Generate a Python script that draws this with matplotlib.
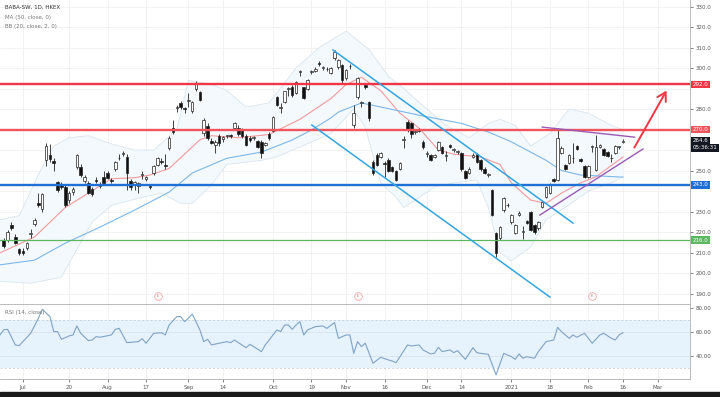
import matplotlib
matplotlib.use("Agg")
import matplotlib.pyplot as plt
from matplotlib.transforms import blended_transform_factory

# bar numbers: 0 = 2 Jul 2020 (HKEX trading days), first visible bar is -5
first_bar = -5

opens = [216, 216, 223.5, 217.5, 211.5, 210.8, 212, 219, 224, 234, 231, 255, 257.5, 254.6, 244.4, 243.5,
         242, 235.6, 239.5, 251.7, 251.7, 245, 244, 241, 245.2, 242.5, 247, 249, 245.3, 251, 256, 258,
         256.5, 245, 243, 242.5, 248, 246, 242.3, 249, 252.7, 254.5, 252.5, 261,
         270.7, 280.5, 283, 280.2, 284, 279, 290, 288.3, 268.3, 271.7, 264.5, 262.4, 267, 265.5, 266.8, 267,
         270.7, 271, 270, 267, 266, 266, 264.4, 264, 262.5, 268, 269.3, 285.9, 280.5, 283.4, 290, 291,
         288, 298, 290.7, 290, 298, 298.5, 302.4, 300, 299.6,
         297.5, 304.9, 300.5, 301.5, 295, 301, 272, 286, 283, 291.7, 283.4, 254, 257.6, 256.6, 253.6, 255,
         251.5, 250, 251, 265, 273.6, 273, 269, 270.5, 264, 258, 257.6, 256.5, 260, 261.5, 257, 262.5,
         260, 259, 258.5, 250, 249, 256.5, 258, 255, 251, 248,
         240.5, 219.5, 217, 230.7, 233, 224.9, 219.5, 228.5, 220, 225.5, 229.8, 223.4, 222, 232.2, 237, 239,
         245.8, 245.4, 258.5, 252.7, 253.7, 256, 262, 255.5, 252, 247, 261.5, 250.2, 261.5, 260.5, 259, 256,
         258.5, 261.5, 263.8]
highs = [217, 221, 225, 219, 212, 212, 215, 221.5, 227, 239, 239, 263.4, 263, 256, 245, 244.5,
         243, 240, 242, 258, 253, 248, 245, 242, 247, 244.5, 250, 250, 246.5, 254.5, 258, 259.5,
         258, 246, 245, 244.5, 250, 247.5, 243, 252.5, 256.5, 256, 258, 267,
         274.6, 282, 284, 281, 287.8, 284, 293.5, 289, 275.5, 273, 266, 265, 268, 267, 267.5, 268,
         273.5, 272, 271, 268, 267, 267, 265, 265, 264, 269, 276.5, 286.5, 283, 289, 291, 291.5,
         293.5, 299, 291, 294.5, 299, 300.5, 303.5, 301, 300.5,
         300.5, 309, 304.5, 302, 299.5, 302, 282, 295.5, 284, 292, 284, 255, 258.5, 259, 254.5, 256,
         252, 250.5, 254, 267, 274.5, 273.5, 270.5, 271, 265, 259.5, 258, 258, 264.5, 262, 259.5, 263,
         261, 260, 259, 250.5, 251.5, 258.5, 258.5, 255.5, 251.5, 249,
         241, 220, 223, 237, 234, 229, 224, 230.5, 223, 226, 230.5, 224, 225.5, 235, 242.5, 244,
         246.5, 270.7, 262, 253, 258, 263.4, 262.5, 256, 252.5, 252.5, 262.5, 267.3, 263, 261, 259.5, 258,
         262.5, 262, 265.5]
lows = [212, 215, 221, 214, 209, 209, 211, 217, 223, 232, 230, 252, 254, 250, 239.5, 241,
        232, 234, 238, 251, 247, 244, 238.5, 237.5, 244, 241.5, 243.5, 246, 244, 250, 255, 257,
        240.5, 240.5, 240.5, 239, 246, 245, 241, 248, 252, 253, 251, 260,
        268, 278.5, 280, 278, 281, 278, 289, 284, 267, 265, 263, 258.5, 262, 264, 266, 266,
        270, 267, 266, 262, 264, 265, 261, 256, 262, 265, 269, 281.5, 278, 283, 286.5, 286,
        287.5, 296, 285, 289.5, 297, 298, 301, 299, 298.5,
        297, 304, 299.5, 292.7, 294, 299.5, 271, 285, 281, 290, 274, 248, 252, 256, 247, 249.5,
        249.5, 245, 250.5, 261, 269, 266, 268, 269, 260.5, 256.5, 254.5, 256, 259.5, 258, 254.5, 261,
        259, 258, 250, 246, 248.5, 256, 253.5, 250, 248.5, 247,
        228, 207.8, 216, 230, 232, 224, 219, 228, 216.5, 224, 220.5, 219, 221, 231.5, 236.5, 238.5,
        244.5, 245, 258, 250.5, 253, 253.7, 260, 254, 246.5, 246.5, 259, 250, 261, 257, 256.5, 254,
        258, 260.5, 263.5]
closes = [213, 220, 222, 214.6, 210, 210, 214.6, 219.5, 226, 233, 238.5, 262, 255.6, 253.7, 240.5, 242,
          233, 239, 241, 257.5, 247.8, 247, 239, 238.5, 244.8, 243.5, 244, 246.6, 245, 254, 256.3, 258.2,
          249, 242, 244.5, 244, 248.2, 247, 242, 252, 256, 254, 252, 266,
          269, 280.8, 281, 280, 284.3, 283.4, 292.7, 284.4, 274.6, 265.9, 263.5, 264, 263.4, 266.5, 267, 266.8,
          273, 268, 267, 262.4, 265, 266.2, 261.5, 258.5, 263.5, 266, 276, 282, 280.7, 288.8, 290.3, 286.8,
          293, 298.2, 285.4, 294, 298.2, 299.5, 302.2, 300.2, 299.4,
          300, 307.8, 304, 294, 299, 300.8, 278, 295, 283.2, 290.7, 275.6, 248.8, 252.7, 258.5, 253.4, 250,
          250, 245.4, 253.7, 265.3, 269.8, 268, 269.2, 269.5, 261.5, 258.2, 255, 257.5, 264, 258.5, 257.2, 261.5,
          260.2, 259.2, 251, 246.5, 251, 257.5, 254, 250.7, 249, 248.2,
          228.3, 209.8, 222.4, 236.6, 233.2, 228.3, 223.4, 229.5, 220.2, 224.5, 221, 220, 225, 234.6, 242, 243.4,
          245, 265.8, 261, 251, 257.5, 256.2, 260.5, 254.5, 247, 252, 261.7, 261.5, 262.5, 257.6, 257, 256.2,
          262, 261.7, 264.6]

# indicator readings (bar number, value)
ma50_bars = [-6, 3, 11, 20, 29, 38, 44, 53, 62, 70, 75, 80, 82, 88, 93, 103, 114, 121, 127, 136, 140, 145, 156]
ma50_vals = [204, 206.3, 214.6, 222.4, 230.7, 239.5, 248.8, 256, 259, 264.9, 269.8, 275.6, 278.5, 283, 281,
             277, 273, 268.8, 264, 255, 250, 247.8, 246.8]
basis_bars = [-6, 3, 11, 17, 23, 29, 33, 38, 42, 46, 49, 56, 64, 72, 80, 84, 88, 93, 98, 103, 108, 112, 119,
              124, 127, 132, 136, 140, 145, 149, 156]
basis_vals = [209.8, 217.6, 232, 239, 246, 246.5, 247.8, 251, 258, 265, 267, 266, 267.6, 275, 285, 292, 295.5,
              289, 278, 270.7, 260, 258, 256.6, 253, 244, 235.6, 234, 239, 244, 247, 256.6]
upper_bars = [-6, -1, 4, 8, 12, 17, 23, 29, 34, 40, 43, 49, 53, 58, 64, 71, 77, 84, 90, 95, 99, 105, 110,
              116, 121, 124, 128, 132, 137, 142, 147, 153, 156]
upper_vals = [226, 228, 248, 262, 266, 267, 263, 260, 260, 270, 294, 292, 289, 281, 283, 300, 310, 318, 309,
              296, 290, 280, 272, 266, 273, 275, 272, 262, 268, 280, 278, 272, 270]
lower_bars = [-6, 2, 10, 18, 23, 29, 36, 41, 44, 49, 53, 62, 66, 72, 80, 86, 89, 93, 97, 99, 102, 107, 112,
              118, 121, 124, 127, 132, 136, 141, 147, 153, 156]
lower_vals = [196, 195, 198, 225, 233, 236, 239, 234, 234, 243, 253, 255, 256.6, 261.5, 268, 280, 271, 244,
              237, 232, 235.6, 242, 244, 245.4, 232, 210, 206, 212.7, 226, 232, 240, 244, 247]

rsi_bars = [-6, -5, -4, -2, -1, 2, 4, 5, 7, 8, 9, 10, 12, 13, 14, 15, 17, 18, 19, 20, 23, 24, 25, 27, 30,
            31, 32, 34, 36, 37, 38, 40, 41, 42, 43, 44, 46, 47, 48, 49, 51, 53, 54, 55, 56, 58, 59, 60, 62,
            63, 64, 66, 67, 68, 69, 70, 71, 72, 73, 74, 76, 78, 79, 81, 82, 84, 85, 86, 87, 88, 89, 91, 93,
            95, 96, 97, 100, 101, 103, 104, 106, 107, 108, 109, 111, 112, 113, 114, 115, 117, 118, 119, 121,
            123, 125, 127, 128, 129, 130, 131, 133, 134, 136, 138, 139, 140, 142, 143, 144, 146, 148, 150,
            151, 153, 154, 155, 156]
rsi_vals = [57.5, 61.7, 62.2, 49.2, 48.6, 58.9, 71.4, 78.9, 72.8, 60.3, 60.3, 53.9, 56.7, 57.5, 65, 58.9,
            52.8, 53.3, 56.1, 55.6, 57.5, 62.2, 63, 51.1, 51.9, 54.4, 50.6, 58.9, 59.4, 57.5, 65.8, 72.8,
            72.8, 68.6, 71.4, 75, 61.7, 51.9, 53.9, 49.2, 50.6, 51.9, 51.1, 53.3, 51.1, 46.9, 49.7, 47.8,
            43.6, 49.2, 53.3, 61.7, 60.3, 65.8, 65.8, 62.2, 65.8, 68.6, 57.5, 61.7, 64.4, 65, 63, 67.8,
            54.7, 57.5, 57.5, 42.2, 51.9, 47.8, 50.6, 33.9, 38.9, 36.7, 35.8, 34.4, 49.2, 48.3, 49.2, 45,
            41.7, 42.2, 47.2, 43.6, 45, 42.8, 44.4, 40.8, 37.2, 46.9, 42.8, 42.2, 41.4, 24.2, 42.2, 39.4,
            37.2, 41.7, 38.1, 39.4, 38.1, 43.6, 51.9, 53.3, 63.9, 60.3, 54.7, 57.5, 55.6, 58.9, 50.6, 57.5,
            58.9, 54.7, 53.3, 57.5, 59.4]

levels = [292.0, 270.0, 243.0, 216.0]
level_colors = ["#f23645", "#f2545b", "#1f6fd6", "#5cb860"]
earnings_bars = [35, 87, 148]

date_bars = [0, 12, 22, 32, 43, 52, 65, 75, 84, 94, 105, 114, 127, 137, 147, 156, 165]
date_labels = ["Jul", "20", "Aug", "17", "Sep", "14", "Oct", "19", "Nov", "16", "Dec", "14",
               "2021", "18", "Feb", "16", "Mar"]
price_ticks = [190, 200, 210, 220, 230, 250, 280, 300, 310, 320, 330]

# drawings (bar, price)
channel_top = ([80.6, 143.0], [308.8, 224.4])
channel_bot = ([75.1, 137.0], [272.2, 188.3])
tri_top = ([135.0, 159.0], [271.2, 266.3])
tri_bot = ([134.4, 161.2], [228.3, 260.5])
arrow_from = (158.6, 260.0)
arrow_to = (167.7, 290.2)

grid_c = "#f0f0f0"
text_c = "#555555"

fig = plt.figure(figsize=(7.2, 3.97), dpi=100)
ax = fig.add_axes([0, 1 - 304 / 397, 690 / 720, 304 / 397])
rax = fig.add_axes([0, 1 - 379 / 397, 690 / 720, 75 / 397], sharex=ax)
fig.patches.append(plt.Rectangle((0, 0), 1, 5 / 397, transform=fig.transFigure,
                                 color="#1a1a1a", zorder=10))

xlo, xhi = -5.98, 173.43
for a in (ax, rax):
    a.set_xlim(xlo, xhi)
    for b in date_bars:
        a.axvline(b, color=grid_c, lw=0.6, zorder=0)
    for s in ("top", "left"):
        a.spines[s].set_visible(False)
    a.spines["right"].set_color("#b0b0b0")
    a.spines["bottom"].set_color("#b0b0b0")
    a.spines["right"].set_linewidth(0.6)
    a.spines["bottom"].set_linewidth(0.6)

ax.set_ylim(184.9, 333.2)
for p in range(190, 340, 10):
    ax.axhline(p, color=grid_c, lw=0.6, zorder=0)

# bollinger band + moving averages
ax.fill(upper_bars + lower_bars[::-1], upper_vals + lower_vals[::-1], color="#f4f9fd", lw=0, zorder=1)
ax.plot(upper_bars, upper_vals, color="#d9e5ee", lw=0.6, zorder=2)
ax.plot(lower_bars, lower_vals, color="#d9e5ee", lw=0.6, zorder=2)
ax.plot(basis_bars, basis_vals, color="#f29a9a", lw=0.8, zorder=2)
ax.plot(ma50_bars, ma50_vals, color="#7cb7e8", lw=0.8, zorder=2)

# candles
bars = list(range(first_bar, first_bar + len(opens)))
ax.vlines(bars, lows, highs, color="#222222", lw=0.6, zorder=3)
for b, o, c in zip(bars, opens, closes):
    lo, hi = min(o, c), max(o, c)
    h = max(hi - lo, 0.35)
    fc = "white" if c >= o else "#111111"
    ax.bar(b, h, bottom=lo, width=0.66, color=fc, edgecolor="#222222", lw=0.5, zorder=4)

# horizontal levels
for lv, col in zip(levels, level_colors):
    ax.axhline(lv, color=col, lw=1.7 if lv != 216.0 else 0.9, zorder=5)

ax.plot(*channel_top, color="#33a5e0", lw=1.1, zorder=5)
ax.plot(*channel_bot, color="#33a5e0", lw=1.1, zorder=5)
ax.plot(*tri_top, color="#9b59b6", lw=1.0, zorder=5)
ax.plot(*tri_bot, color="#9b59b6", lw=1.0, zorder=5)
ax.annotate("", xy=arrow_to, xytext=arrow_from,
            arrowprops=dict(arrowstyle="->,head_length=0.6,head_width=0.35", color="#f23645", lw=1.4),
            zorder=6)

for b in earnings_bars:
    ax.plot(b, 188.8, "o", ms=5.5, mfc="white", mec="#f2a6a6", mew=0.6, zorder=6)
    ax.text(b, 188.8, "E", fontsize=2.8, color="#d07070", ha="center", va="center", zorder=7)

# price scale
ax.yaxis.tick_right()
ax.set_yticks(price_ticks)
ax.set_yticklabels([f"{p:.1f}" for p in price_ticks])
ax.tick_params(axis="y", labelsize=4, colors=text_c, length=2, width=0.5, pad=2)
ax.tick_params(axis="x", bottom=False, labelbottom=False)

tr = blended_transform_factory(ax.transAxes, ax.transData)
for lv, col in zip(levels, level_colors):
    ax.text(1.004, lv, f"{lv:.1f}", transform=tr, fontsize=4, color="white", ha="left", va="center",
            bbox=dict(boxstyle="square,pad=0.25", fc=col, ec="none"), zorder=8, clip_on=False)
ax.text(1.004, closes[-1], f"{closes[-1]:.1f}", transform=tr, fontsize=4, color="white", ha="left",
        va="center", bbox=dict(boxstyle="square,pad=0.25", fc="#131722", ec="none"), clip_on=False)
ax.annotate("05:36:31", xy=(1.004, closes[-1]), xycoords=tr, xytext=(0, -5.2), textcoords="offset points",
            fontsize=4, color="white", ha="left", va="center",
            bbox=dict(boxstyle="square,pad=0.25", fc="#131722", ec="none"), annotation_clip=False)

ax.text(0.007, 0.975, "BABA-SW, 1D, HKEX", transform=ax.transAxes, fontsize=4, color="#333333", va="center")
ax.text(0.007, 0.944, "MA (50, close, 0)", transform=ax.transAxes, fontsize=4, color="#777777", va="center")
ax.text(0.007, 0.913, "BB (20, close, 2, 0)", transform=ax.transAxes, fontsize=4, color="#777777", va="center")

# RSI pane
rax.set_ylim(20.8, 83.3)
rax.axhspan(30, 70, color="#e6f2fc", lw=0, zorder=0)
for lv in (70, 30):
    rax.axhline(lv, color="#c0c8d0", lw=0.5, ls=(0, (3, 3)), zorder=1)
for lv in (60, 40):
    rax.axhline(lv, color="#d8e2ea", lw=0.5, zorder=1)
rax.plot(rsi_bars, rsi_vals, color="#7fa3c6", lw=0.8, zorder=3)
rax.spines["top"].set_visible(True)
rax.spines["top"].set_color("#b0b0b0")
rax.spines["top"].set_linewidth(0.6)
rax.yaxis.tick_right()
rax.set_yticks([80, 60, 40])
rax.set_yticklabels(["80.00", "60.00", "40.00"])
rax.tick_params(axis="y", labelsize=4, colors=text_c, length=2, width=0.5, pad=2)
rax.set_xticks(date_bars)
rax.set_xticklabels(date_labels)
rax.tick_params(axis="x", labelsize=4, colors=text_c, length=2, width=0.5, pad=2)
rax.text(0.007, 0.89, "RSI (14, close)", transform=rax.transAxes, fontsize=4, color="#777777", va="center")

fig.savefig("out.png", dpi=100)
